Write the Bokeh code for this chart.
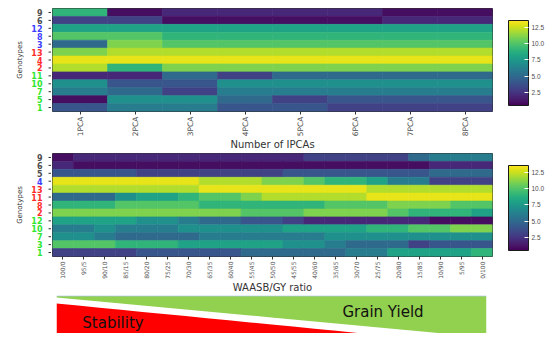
import math
from bokeh.plotting import figure
from bokeh.models import (ColumnDataSource, LinearColorMapper, ColorBar, FixedTicker,
                          PrintfTickFormatter, Label, Range1d, FactorRange)
from bokeh.core.properties import value
from bokeh.transform import transform
from bokeh.palettes import Viridis256
from bokeh.layouts import column, row
from bokeh.embed import file_html
from bokeh.resources import INLINE

# ---------------- data: ranks by number of IPCAs ----------------
ipca_labels = ["1PCA", "2PCA", "3PCA", "4PCA", "5PCA", "6PCA", "7PCA", "8PCA"]
ipca_genotypes = ["9", "6", "12", "8", "3", "13", "4", "2", "11", "10", "7", "5", "1"]  # top -> bottom
ipca_g9 = [9, 1, 2, 2, 2, 2, 1, 1]
ipca_g6 = [3, 3, 1, 1, 1, 1, 2, 2]
ipca_g12 = [8, 8, 8, 8, 8, 8, 8, 8]
ipca_g8 = [10, 10, 9, 9, 9, 9, 9, 9]
ipca_g3 = [5, 11, 10, 10, 10, 10, 10, 10]
ipca_g13 = [11, 12, 12, 12, 12, 12, 12, 12]
ipca_g4 = [13, 13, 13, 13, 13, 13, 13, 13]
ipca_g2 = [12, 9, 11, 11, 11, 11, 11, 11]
ipca_g11 = [2, 2, 5, 3, 5, 5, 5, 5]
ipca_g10 = [7, 4, 4, 7, 7, 7, 7, 7]
ipca_g7 = [6, 5, 3, 6, 6, 6, 6, 6]
ipca_g5 = [1, 7, 7, 5, 3, 4, 4, 4]
ipca_g1 = [4, 6, 6, 4, 4, 3, 3, 3]
ipca_gray = ["9", "6"]
ipca_blue = ["12", "8", "3"]
ipca_red = ["13", "4", "2"]
ipca_green = ["11", "10", "7", "5", "1"]

# ---------------- data: ranks by WAASB/GY ratio ----------------
ratio_labels = ["100/0", "95/5", "90/10", "85/15", "80/20", "75/25", "70/30", "65/35",
                "60/40", "55/45", "50/50", "45/55", "40/60", "35/65", "30/70", "25/75",
                "20/80", "15/85", "10/90", "5/95", "0/100"]
ratio_genotypes = ["9", "6", "5", "4", "13", "11", "8", "2", "12", "10", "7", "3", "1"]  # top -> bottom
ratio_g9 = [1, 2, 2, 2, 2, 2, 2, 2, 2, 2, 2, 2, 3, 3, 3, 3, 3, 5, 6, 6, 6]
ratio_g6 = [2, 1, 1, 1, 1, 1, 1, 1, 1, 1, 1, 1, 1, 1, 1, 1, 1, 1, 2, 2, 2]
ratio_g5 = [4, 4, 4, 4, 3, 3, 3, 3, 3, 3, 3, 4, 4, 4, 4, 4, 4, 4, 5, 5, 5]
ratio_g4 = [13, 13, 13, 13, 13, 13, 13, 12, 12, 12, 11, 11, 10, 9, 9, 8, 6, 6, 3, 3, 3]
ratio_g13 = [12, 12, 12, 12, 12, 12, 12, 13, 13, 13, 13, 13, 13, 13, 13, 12, 12, 12, 12, 12, 12]
ratio_g11 = [5, 5, 5, 7, 8, 8, 9, 10, 10, 11, 12, 12, 12, 12, 12, 13, 13, 13, 13, 13, 13]
ratio_g8 = [9, 9, 9, 10, 10, 10, 10, 9, 9, 9, 9, 9, 9, 10, 10, 10, 11, 11, 11, 10, 10]
ratio_g2 = [11, 11, 11, 11, 11, 11, 11, 11, 11, 10, 10, 10, 11, 11, 11, 11, 10, 9, 9, 9, 8]
ratio_g12 = [8, 8, 8, 8, 7, 7, 6, 5, 5, 4, 4, 3, 2, 2, 2, 2, 2, 2, 1, 1, 1]
ratio_g10 = [6, 6, 7, 6, 6, 6, 7, 7, 7, 7, 7, 8, 8, 8, 8, 9, 9, 10, 10, 11, 11]
ratio_g7 = [7, 7, 6, 5, 5, 5, 5, 6, 6, 6, 6, 6, 6, 7, 7, 7, 7, 7, 7, 7, 7]
ratio_g3 = [10, 10, 10, 9, 9, 9, 8, 8, 8, 8, 8, 7, 7, 6, 5, 5, 5, 3, 4, 4, 4]
ratio_g1 = [3, 3, 3, 3, 4, 4, 4, 4, 4, 5, 5, 5, 5, 5, 6, 6, 8, 8, 8, 8, 9]
ratio_gray = ["9", "6", "5"]
ratio_blue = ["4"]
ratio_red = ["13", "11", "8", "2"]
ratio_green = ["12", "10", "7", "3", "1"]

colorbar_ticks = [2.5, 5.0, 7.5, 10.0, 12.5]

ipca_rows = [ipca_g9, ipca_g6, ipca_g12, ipca_g8, ipca_g3, ipca_g13, ipca_g4, ipca_g2,
             ipca_g11, ipca_g10, ipca_g7, ipca_g5, ipca_g1]
ratio_rows = [ratio_g9, ratio_g6, ratio_g5, ratio_g4, ratio_g13, ratio_g11, ratio_g8, ratio_g2,
              ratio_g12, ratio_g10, ratio_g7, ratio_g3, ratio_g1]

FONT = "DejaVu Sans"
GROUP_COLORS = {"gray": "#4d4d4d", "blue": "#3c3cff", "red": "#ff2a2a", "green": "#2ee62e"}
W = 547
LW = 51  # width of the genotype-label strip

mapper = LinearColorMapper(palette=Viridis256, low=0.5, high=13.5)


def label_strip(genos, groups, y_range, height, border_top, border_bottom):
    n = len(genos)
    colour_of = {}
    for gname, members in groups.items():
        for g in members:
            colour_of[g] = GROUP_COLORS[gname]
    ys = [n - 1 - i + 0.5 for i in range(n)]
    q = figure(width=LW, height=height, x_range=Range1d(0, LW), y_range=y_range,
               output_backend="svg", toolbar_location=None,
               min_border_left=0, min_border_right=0, min_border_top=border_top,
               min_border_bottom=border_bottom, x_axis_location=None, y_axis_location=None)
    q.grid.visible = False
    q.outline_line_color = None
    src = ColumnDataSource(dict(y=ys, t=genos, c=[colour_of[g] for g in genos]))
    q.text(x=42, y="y", text="t", text_color="c", source=src, text_align="right",
           text_baseline="middle", text_font=value(FONT), text_font_size=value("8px"),
           text_font_style="bold")
    q.segment(x0=LW - 3, x1=LW, y0="y", y1="y", source=src, line_color="#333333",
              line_width=1)
    q.text(x=[19], y=[n / 2], text=["Genotypes"], angle=math.pi / 2, text_align="center",
           text_baseline="middle", text_font=value(FONT), text_font_size=value("7px"),
           text_color="#333333")
    return q


def heatmap(xlabels, genos, rows, y_range, height, border_top, border_bottom,
            xfont_size, xtitle):
    n = len(genos)
    xs, ys, vs = [], [], []
    for i, vals in enumerate(rows):
        for lab, v in zip(xlabels, vals):
            xs.append(lab)
            ys.append(n - 1 - i + 0.5)
            vs.append(v)
    src = ColumnDataSource(dict(x=xs, y=ys, v=vs))

    p = figure(width=W - LW, height=height, x_range=FactorRange(factors=xlabels),
               y_range=y_range, output_backend="svg", toolbar_location=None,
               min_border_left=1, min_border_right=W - LW - 1 - 440,
               min_border_top=border_top, min_border_bottom=border_bottom,
               y_axis_location=None)
    p.rect(x="x", y="y", width=1, height=1, source=src,
           fill_color=transform("v", mapper), line_color=transform("v", mapper),
           line_width=0.6)

    p.grid.visible = False
    p.outline_line_color = "#333333"
    p.outline_line_width = 1
    p.background_fill_color = "white"

    xa = p.xaxis[0]
    xa.axis_line_color = None
    xa.major_tick_out = 3
    xa.major_tick_in = 0
    xa.major_tick_line_color = "#333333"
    xa.major_label_orientation = math.pi / 2
    xa.major_label_standoff = 2
    xa.major_label_text_font = FONT
    xa.major_label_text_font_size = xfont_size
    xa.major_label_text_color = "#4d4d4d"
    xa.axis_label = xtitle
    xa.axis_label_text_font = FONT
    xa.axis_label_text_font_size = "10px"
    xa.axis_label_text_font_style = "normal"
    xa.axis_label_text_color = "#333333"
    xa.axis_label_standoff = 0

    cb = ColorBar(color_mapper=mapper, location=(456, 6), width=20, height=85,
                  padding=0, margin=0,
                  ticker=FixedTicker(ticks=colorbar_ticks),
                  formatter=PrintfTickFormatter(format="%.1f"),
                  major_label_text_font="Liberation Sans", major_label_text_font_size="6.5px",
                  major_label_text_color="#4d4d4d", label_standoff=3,
                  major_tick_line_color="white", major_tick_in=4,
                  bar_line_color="#1a1a1a", bar_line_width=1,
                  background_fill_alpha=0, border_line_color=None)
    p.add_layout(cb)
    return p


yr1 = Range1d(0, len(ipca_genotypes))
yr2 = Range1d(0, len(ratio_genotypes))
g1 = {"gray": ipca_gray, "blue": ipca_blue, "red": ipca_red, "green": ipca_green}
g2 = {"gray": ratio_gray, "blue": ratio_blue, "red": ratio_red, "green": ratio_green}

q1 = label_strip(ipca_genotypes, g1, yr1, height=153, border_top=8, border_bottom=39)
p1 = heatmap(ipca_labels, ipca_genotypes, ipca_rows, yr1, height=153, border_top=8,
             border_bottom=39, xfont_size="7.5px", xtitle="Number of IPCAs")
q2 = label_strip(ratio_genotypes, g2, yr2, height=142, border_top=0, border_bottom=36)
p2 = heatmap(ratio_labels, ratio_genotypes, ratio_rows, yr2, height=142, border_top=0,
             border_bottom=36, xfont_size="6px", xtitle="WAASB/GY ratio")

# ---------------- Stability / Grain Yield wedge (weights from the ratio labels) ----------------
ratio_waasb = [int(s.split("/")[0]) for s in ratio_labels]
ratio_gy = [int(s.split("/")[1]) for s in ratio_labels]
idx = list(range(len(ratio_labels)))

p3 = figure(width=W, height=38, x_range=Range1d(0, len(ratio_labels) - 1),
            y_range=Range1d(8, 46), output_backend="svg", toolbar_location=None,
            min_border_left=56, min_border_right=W - 56 - 430, min_border_top=0,
            min_border_bottom=0, x_axis_location=None, y_axis_location=None)
p3.grid.visible = False
p3.outline_line_color = None
red_top = [-4 + 0.42 * w for w in ratio_waasb]
green_bottom = [44 - 0.40 * g for g in ratio_gy]
p3.varea(x=idx, y1=0, y2=red_top, fill_color="#ff0000")
p3.varea(x=idx, y1=green_bottom, y2=45.5, fill_color="#92d050")
p3.line(x=[idx[0], idx[-1]], y=[45.6, 45.6], line_color="#a9c4e4", line_width=1)
p3.add_layout(Label(x=1.2, y=19, text="Stability", text_font=FONT, text_font_size="15px",
                    text_color="#111111", text_baseline="middle", text_align="left"))
p3.add_layout(Label(x=13.3, y=30, text="Grain Yield", text_font=FONT, text_font_size="15px",
                    text_color="#111111", text_baseline="middle", text_align="left"))

layout = column(row(q1, p1, spacing=0), row(q2, p2, spacing=0), p3, spacing=0)
open("out.html", "w").write(file_html(layout, INLINE))
